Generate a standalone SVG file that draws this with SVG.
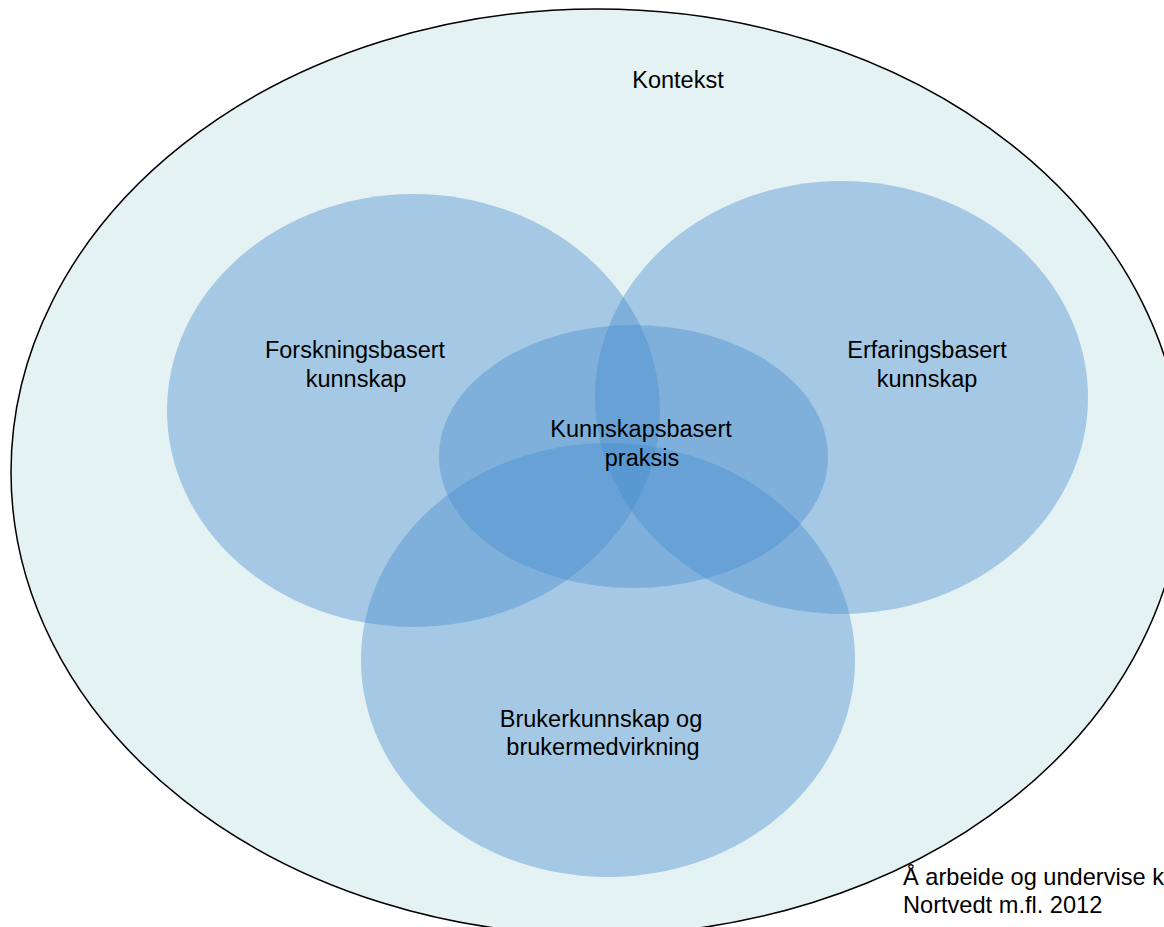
<svg xmlns="http://www.w3.org/2000/svg" width="1164" height="927" viewBox="0 0 1164 927">
<style>
.lbl{font-family:"Liberation Sans",Arial,sans-serif;font-size:23.5px;fill:#000;text-anchor:middle}
.cite{font-family:"Liberation Sans",Arial,sans-serif;font-size:23.6px;fill:#000}
.set{fill:#468CCD;fill-opacity:0.4}
</style>
<rect width="1164" height="927" fill="#fff"/>
<g id="kontekst">
<ellipse cx="597" cy="472" rx="586" ry="463" fill="#E4F2F4" stroke="#000" stroke-width="1.5"/>
<text class="lbl" x="678" y="88">Kontekst</text>
</g>
<g id="forskningsbasert">
<ellipse class="set" cx="413.5" cy="410.5" rx="246.5" ry="216.5"/>
</g>
<g id="erfaringsbasert">
<ellipse class="set" cx="841.5" cy="397.5" rx="246.5" ry="216.5"/>
</g>
<g id="brukerkunnskap">
<ellipse class="set" cx="608" cy="660" rx="247" ry="217"/>
</g>
<g id="kunnskapsbasert">
<ellipse class="set" cx="633.5" cy="456.5" rx="194.5" ry="131.5"/>
</g>
<g id="labels">
<text class="lbl" x="355" y="358">Forskningsbasert<tspan x="356" y="387">kunnskap</tspan></text>
<text class="lbl" x="927" y="358">Erfaringsbasert<tspan x="927" y="387">kunnskap</tspan></text>
<text class="lbl" x="641" y="437">Kunnskapsbasert<tspan x="642" y="466">praksis</tspan></text>
<text class="lbl" x="601" y="727">Brukerkunnskap og<tspan x="603" y="755">brukermedvirkning</tspan></text>
</g>
<g id="citation">
<text class="cite" x="903" y="885">Å arbeide og undervise k<tspan x="903" y="913">Nortvedt m.fl. 2012</tspan></text>
</g>
<g id="connectors"/>
</svg>
